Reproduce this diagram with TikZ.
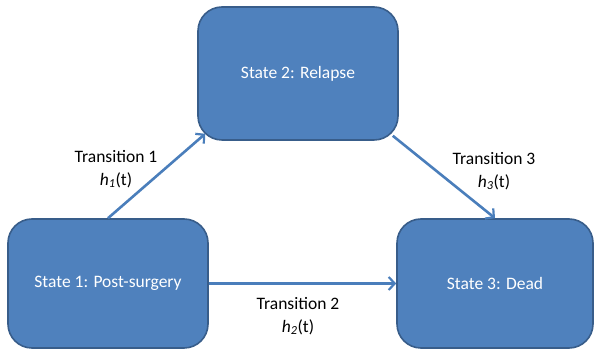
\documentclass[tikz,border=0pt]{standalone}
\usepackage{fontspec}
\setmainfont{Carlito}
\usetikzlibrary{arrows.meta, positioning}

\definecolor{statefill}{HTML}{4F81BD}
\definecolor{stateline}{HTML}{385D8A}
\definecolor{arrowblue}{HTML}{4A7EBB}

\begin{document}
\begin{tikzpicture}[
      x=1pt, y=1pt,
      font=\fontsize{17.5}{23}\selectfont,
      state/.style={rectangle, draw=stateline, fill=statefill, line width=1.6pt,
                    rounded corners=24pt, minimum width=200pt,
                    minimum height=130pt, align=center, text=white},
      lbl/.style={align=center, inner sep=0pt},
      arr/.style={-{Straight Barb[length=6pt, width=13pt, line width=2.2pt]},
                  draw=arrowblue, line width=2.6pt}
    ]
    \useasboundingbox (0,0) rectangle (594,350);

    % States
    \node[state, minimum height=133pt] (relapse) at (298,276.5) {State 2: Relapse};
    \node[state, minimum height=129pt] (surgery) at (108,66.5) {State 1: Post-surgery};
    \node[state, minimum height=129pt, minimum width=196pt] (dead) at (495,66.5) {State 3: Dead};

    % Labels
    \node[lbl] (t1) at (116,181) {Transition 1\\\textit{h}\textsubscript{\textit{1}}(t)};
    \node[lbl] (t3) at (494,179) {Transition 3\\\textit{h}\textsubscript{\textit{3}}(t)};
    \node[lbl] (t2) at (298,34) {Transition 2\\\textit{h}\textsubscript{\textit{2}}(t)};

    % Transitions
    \draw[arr] (surgery.north) -- ([shift={(8pt,7pt)}]relapse.south west);
    \draw[arr] ([shift={(-6pt,5pt)}]relapse.south east) -- (dead.north);
    \draw[arr] (surgery.east) -- (dead.west);
  \end{tikzpicture}
\end{document}
